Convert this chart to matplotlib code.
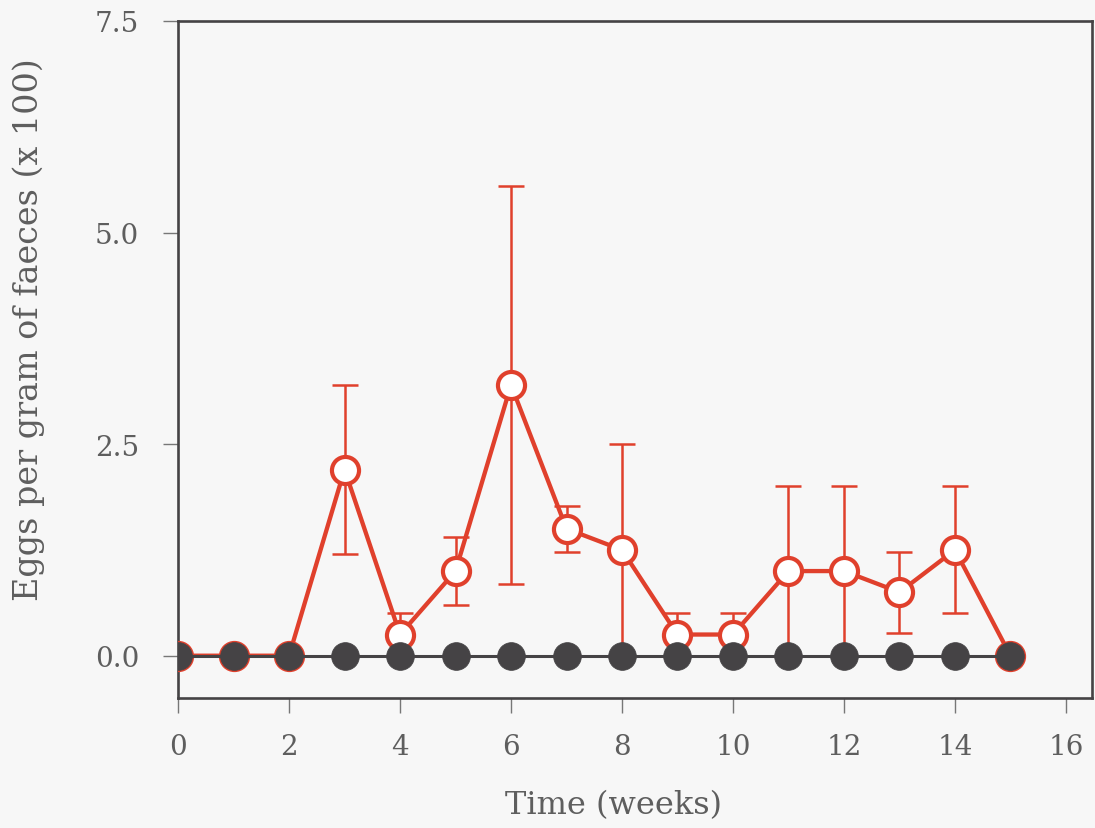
import matplotlib
matplotlib.use("Agg")
import matplotlib.pyplot as plt

# Weekly faecal egg counts (x 100 eggs per gram)
weeks = list(range(16))
infected_mean = [0, 0, 0, 2.2, 0.25, 1.0, 3.2, 1.5, 1.25, 0.25, 0.25, 1.0, 1.0, 0.75, 1.25, 0]
infected_err = [0, 0, 0, 1.0, 0.25, 0.4, 2.35, 0.27, 1.25, 0.25, 0.25, 1.0, 1.0, 0.48, 0.75, 0]
control_mean = [0] * 16

x_ticks = [0, 2, 4, 6, 8, 10, 12, 14, 16]
y_ticks = [0.0, 2.5, 5.0, 7.5]

RED = "#e0402c"
DARK = "#454345"
TEXT = "#5e5e5e"
BG = "#f7f7f7"

plt.rcParams["font.family"] = ["DejaVu Serif"]

fig = plt.figure(figsize=(10.95, 8.29), dpi=100, facecolor=BG)
ax = fig.add_axes([0.1626, 0.1568, 0.8347, 0.8167], facecolor=BG)

ax.errorbar(weeks, infected_mean, yerr=infected_err, fmt="none",
            ecolor=RED, elinewidth=1.8, capsize=9.5, capthick=1.8, zorder=2)
ax.plot(weeks, infected_mean, "-", color=RED, lw=3.1, zorder=3)
ax.plot(weeks, infected_mean, "o", ms=19.5, mfc="white", mec=RED, mew=3.0,
        zorder=4, ls="none")
ax.plot(weeks, control_mean, "-", color=DARK, lw=2.2, zorder=5)
ax.plot(weeks, control_mean, "o", ms=20, mfc=DARK, mec=DARK, mew=0.5,
        zorder=6, ls="none")

ax.set_xlim(0, 16.47)
ax.set_ylim(-0.5, 7.5)
ax.set_xticks(x_ticks)
ax.set_xticklabels([str(t) for t in x_ticks])
ax.set_yticks(y_ticks)
ax.set_yticklabels([f"{t:.1f}" for t in y_ticks])

for s in ax.spines.values():
    s.set_color(DARK)
    s.set_linewidth(1.9)

ax.tick_params(axis="both", direction="out", length=11, width=1.0,
               color="#777777", labelsize=20, labelcolor=TEXT)
ax.tick_params(axis="x", pad=14)
ax.tick_params(axis="y", pad=17)

ax.set_xlabel("Time (weeks)", fontsize=23, color=TEXT)
ax.xaxis.set_label_coords(0.476, -0.134)
ax.set_ylabel("Eggs per gram of faeces (x 100)", fontsize=24, color=TEXT)
ax.yaxis.set_label_coords(-0.146, 0.545)

fig.savefig("out.png", dpi=100, facecolor=BG)
